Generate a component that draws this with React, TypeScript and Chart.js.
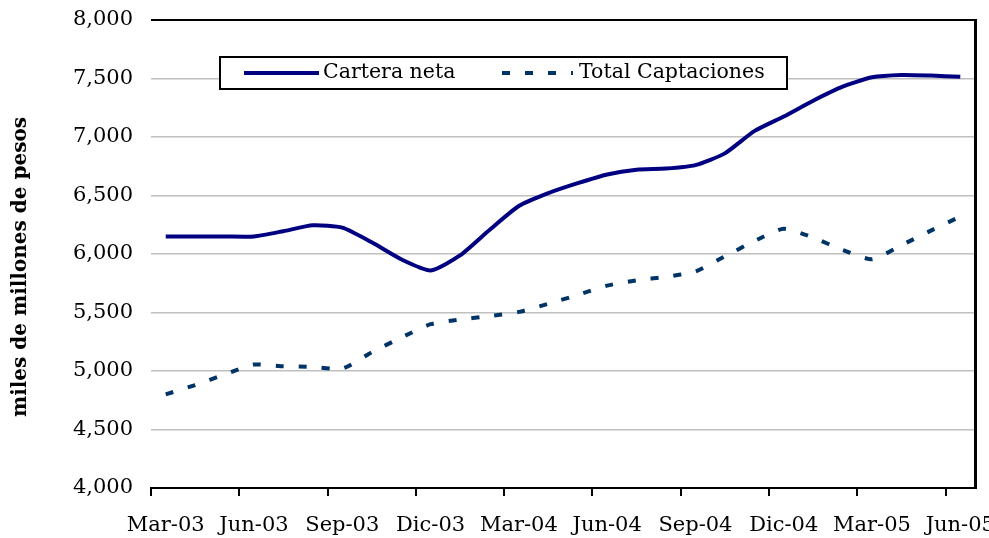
import React, { useEffect, useRef } from "react";
import { Chart, registerables } from "chart.js";

Chart.register(...registerables);

const MONTHS = [
  "Mar-03", "Abr-03", "May-03", "Jun-03", "Jul-03", "Ago-03", "Sep-03", "Oct-03", "Nov-03", "Dic-03",
  "Ene-04", "Feb-04", "Mar-04", "Abr-04", "May-04", "Jun-04", "Jul-04", "Ago-04", "Sep-04", "Oct-04",
  "Nov-04", "Dic-04", "Ene-05", "Feb-05", "Mar-05", "Abr-05", "May-05", "Jun-05",
];

const CARTERA_NETA = [
  6150, 6150, 6150, 6150, 6195, 6245, 6225, 6100, 5955, 5860,
  5988, 6205, 6410, 6520, 6605, 6680, 6720, 6730, 6760, 6860,
  7050, 7175, 7310, 7430, 7510, 7530, 7525, 7515,
];

const TOTAL_CAPTACIONES = [
  4800, 4880, 4970, 5055, 5040, 5035, 5020, 5160, 5285, 5400,
  5440, 5470, 5505, 5575, 5650, 5730, 5775, 5805, 5850, 5980,
  6110, 6215, 6140, 6035, 5955, 6075, 6200, 6320,
];

const SERIES_LABELS = ["Cartera neta", "Total Captaciones"];
const Y_TITLE = "miles de millones de pesos";

const FONT = '"DejaVu Serif", serif';

const decorPlugin = {
  id: "decor",
  afterDraw(chart: any) {
    const { ctx, chartArea } = chart;
    const { top, right, bottom } = chartArea;
    ctx.save();
    // right border of plot area
    ctx.strokeStyle = "#000";
    ctx.lineWidth = 3;
    ctx.beginPath();
    ctx.moveTo(right + 0.5, top - 1);
    ctx.lineTo(right + 0.5, bottom + 1);
    ctx.stroke();

    // legend box
    const bx = 220, by = 57, bw = 567, bh = 32;
    ctx.fillStyle = "#fff";
    ctx.fillRect(bx, by, bw, bh);
    ctx.lineWidth = 2;
    ctx.strokeStyle = "#000";
    ctx.strokeRect(bx, by, bw, bh);
    const cy = by + bh / 2;
    const ds = chart.data.datasets;
    ctx.setLineDash([]);
    ctx.lineCap = "butt";
    ctx.strokeStyle = ds[0].borderColor;
    ctx.lineWidth = 4;
    ctx.beginPath();
    ctx.moveTo(244, cy);
    ctx.lineTo(319, cy);
    ctx.stroke();
    ctx.strokeStyle = ds[1].borderColor;
    ctx.setLineDash(ds[1].borderDash);
    ctx.beginPath();
    ctx.moveTo(502, cy);
    ctx.lineTo(573, cy);
    ctx.stroke();
    ctx.setLineDash([]);
    ctx.fillStyle = "#000";
    ctx.font = `20.5px ${FONT}`;
    ctx.textAlign = "left";
    ctx.textBaseline = "middle";
    ctx.fillText(ds[0].label, 323, cy);
    ctx.fillText(ds[1].label, 579, cy);

    // y axis title
    ctx.translate(21, 267);
    ctx.rotate(-Math.PI / 2);
    ctx.textAlign = "center";
    ctx.textBaseline = "middle";
    ctx.font = `bold 20px ${FONT}`;
    ctx.fillText(Y_TITLE, 0, 0);
    ctx.restore();
  },
};

export default function App() {
  const canvasRef = useRef<HTMLCanvasElement | null>(null);

  useEffect(() => {
    const canvas = canvasRef.current;
    if (!canvas) return;
    const chart = new Chart(canvas, {
      type: "line",
      data: {
        labels: MONTHS,
        datasets: [
          {
            label: SERIES_LABELS[0],
            data: CARTERA_NETA,
            borderColor: "#000080",
            borderWidth: 4,
            pointRadius: 0,
            tension: 0.2,
            fill: false,
          },
          {
            label: SERIES_LABELS[1],
            data: TOTAL_CAPTACIONES,
            borderColor: "#003366",
            borderWidth: 4,
            borderDash: [8, 15],
            borderCapStyle: "butt",
            pointRadius: 0,
            tension: 0.2,
            fill: false,
          },
        ],
      },
      options: {
        animation: false,
        responsive: false,
        devicePixelRatio: 1,
        layout: { padding: { top: 20, right: 14, left: 0, bottom: 0 } },
        plugins: {
          legend: { display: false },
          tooltip: { enabled: false },
        },
        scales: {
          x: {
            type: "category",
            offset: true,
            afterFit: (s: any) => {
              s.height = 50;
              s.paddingLeft = 0;
              s.paddingRight = 0;
            },
            grid: {
              offset: true,
              drawOnChartArea: false,
              drawTicks: true,
              tickLength: 8,
              color: (c: any) => (c.index % 3 === 0 ? "#000" : "rgba(0,0,0,0)"),
              lineWidth: 2,
            },
            border: { display: true, color: "#000", width: 2 },
            ticks: {
              autoSkip: false,
              maxRotation: 0,
              minRotation: 0,
              padding: 17,
              color: "#000",
              font: { family: FONT, size: 21 },
              callback: (_v: any, i: number) => (i % 3 === 0 ? MONTHS[i] : ""),
            },
          },
          y: {
            min: 4000,
            max: 8000,
            afterFit: (s: any) => {
              s.width = 151;
              s.paddingTop = 0;
              s.paddingBottom = 0;
            },
            ticks: {
              stepSize: 500,
              padding: 18,
              color: "#000",
              font: { family: FONT, size: 21 },
              callback: (v: any) => Number(v).toLocaleString("en-US"),
            },
            grid: {
              drawTicks: false,
              color: (c: any) =>
                c.tick && c.tick.value === 8000
                  ? "#000"
                  : c.tick && c.tick.value === 4000
                  ? "rgba(0,0,0,0)"
                  : "#c0c0c0",
              lineWidth: (c: any) => (c.tick && c.tick.value === 8000 ? 2 : 1.5),
            },
            border: { display: false },
          },
        },
      },
      plugins: [decorPlugin],
    });
    return () => chart.destroy();
  }, []);

  return (
    <div style={{ position: "fixed", left: 0, top: 0, width: 989, height: 538, background: "#fff" }}>
      <canvas ref={canvasRef} width={989} height={538} style={{ display: "block" }} />
    </div>
  );
}
